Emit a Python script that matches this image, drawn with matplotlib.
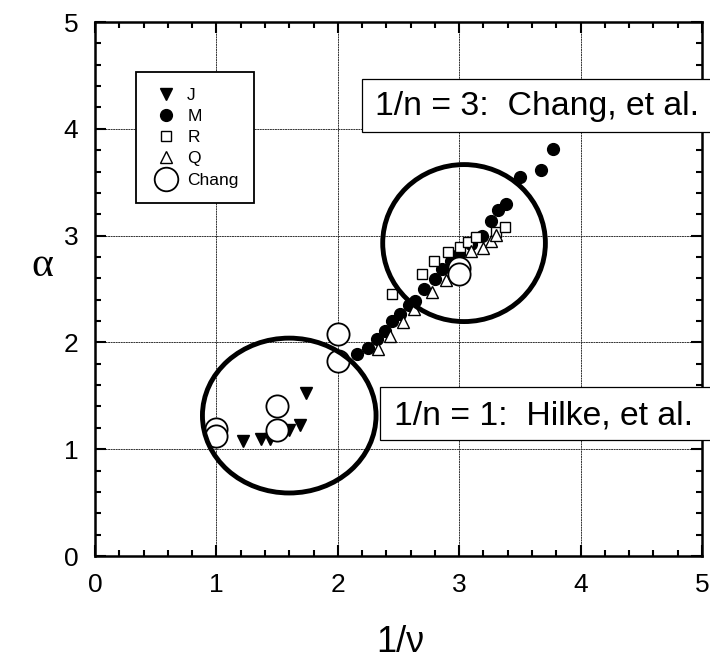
import matplotlib
matplotlib.use("Agg")
import matplotlib.pyplot as plt
from matplotlib.ticker import MultipleLocator
from matplotlib.patches import Ellipse, Rectangle
from matplotlib.lines import Line2D

plt.rcParams['font.family'] = ['Liberation Sans', 'DejaVu Sans']

# ---- data ----
J_x = [1.22, 1.365, 1.44, 1.60, 1.69, 1.74]
J_y = [1.08, 1.10, 1.10, 1.18, 1.23, 1.53]

M_x = [2.16, 2.25, 2.32, 2.385, 2.45, 2.51, 2.59, 2.64, 2.71, 2.80, 2.86,
       2.93, 3.00, 3.10, 3.19, 3.265, 3.32, 3.385, 3.50, 3.67, 3.775]
M_y = [1.89, 1.95, 2.03, 2.11, 2.20, 2.27, 2.35, 2.39, 2.50, 2.59, 2.69,
       2.76, 2.83, 2.92, 3.00, 3.14, 3.24, 3.30, 3.55, 3.61, 3.81]

R_x = [2.45, 2.695, 2.79, 2.905, 3.01, 3.07, 3.14, 3.30, 3.38]
R_y = [2.45, 2.64, 2.76, 2.85, 2.89, 2.94, 2.99, 3.03, 3.08]

Q_x = [2.33, 2.43, 2.54, 2.63, 2.78, 2.89, 3.10, 3.20, 3.26, 3.30]
Q_y = [1.94, 2.06, 2.19, 2.31, 2.47, 2.58, 2.86, 2.88, 2.95, 3.01]

Chang_x = [1.0, 1.0, 1.5, 1.5, 2.0, 2.0, 3.0, 3.0]
Chang_y = [1.19, 1.12, 1.40, 1.18, 2.08, 1.83, 2.70, 2.64]

ticks = [0, 1, 2, 3, 4, 5]
tick_labels = ["0", "1", "2", "3", "4", "5"]

# highlighted regions: (center x, center y, width, height)
regions = [(1.60, 1.315, 1.43, 1.45), (3.04, 2.93, 1.34, 1.47)]
# annotation text: (text x, baseline y, label), box: (left, bottom, top)
annotations = [(2.303, 4.13, "1/n = 3:  Chang, et al."),
               (2.467, 1.227, "1/n = 1:  Hilke, et al.")]
ann_boxes = [(2.196, 3.97, 4.466), (2.344, 1.086, 1.582)]

# ---- figure ----
fig = plt.figure(figsize=(7.1, 6.64), dpi=100)
ax = fig.add_axes([95/710, (664-556)/664, (702-95)/710, (556-22)/664])
ax.set_xlim(0, 5)
ax.set_ylim(0, 5)

ax.set_xticks(ticks)
ax.set_xticklabels(tick_labels)
ax.set_yticks(ticks)
ax.set_yticklabels(tick_labels)
ax.xaxis.set_minor_locator(MultipleLocator(0.2))
ax.yaxis.set_minor_locator(MultipleLocator(0.2))
ax.tick_params(which='both', direction='in', top=True, right=True, width=1.5)
ax.tick_params(which='major', length=8, labelsize=19, pad=12)
ax.tick_params(which='minor', length=4.5)
for s in ax.spines.values():
    s.set_linewidth(1.8)
ax.grid(True, which='major', color='#333333', linewidth=0.7, linestyle=(0, (2, 0.6)))
ax.set_axisbelow(True)

ax.plot(J_x, J_y, linestyle='none', marker='v', ms=8, color='black', zorder=3)
ax.plot(M_x, M_y, linestyle='none', marker='o', ms=8.5, color='black', zorder=3)
ax.plot(R_x, R_y, linestyle='none', marker='s', ms=7.5, mfc='white', mec='black', mew=1.0, zorder=3)
ax.plot(Q_x, Q_y, linestyle='none', marker='^', ms=8.5, mfc='white', mec='black', mew=1.0, zorder=3)
ax.plot(Chang_x, Chang_y, linestyle='none', marker='o', ms=16, mfc='white', mec='black', mew=1.3, zorder=4)

for cx, cy, w, h in regions:
    ax.add_patch(Ellipse((cx, cy), w, h, fill=False, edgecolor='black', linewidth=3.5, zorder=5))

for (tx, ty, s), (bl, bb, bt) in zip(annotations, ann_boxes):
    ax.add_patch(Rectangle((bl, bb), 6.0 - bl, bt - bb, facecolor='white', edgecolor='black',
                           linewidth=0.9, zorder=9, clip_on=False))
    ax.text(tx, ty, s, fontsize=24.3, va='baseline', ha='left', zorder=10, clip_on=False)

handles = [
    Line2D([], [], linestyle='none', marker='v', ms=8.5, color='black'),
    Line2D([], [], linestyle='none', marker='o', ms=8.5, color='black'),
    Line2D([], [], linestyle='none', marker='s', ms=7, mfc='white', mec='black', mew=1.0),
    Line2D([], [], linestyle='none', marker='^', ms=8.5, mfc='white', mec='black', mew=1.0),
    Line2D([], [], linestyle='none', marker='o', ms=17, mfc='white', mec='black', mew=1.3),
]
leg = ax.legend(handles, ["J", "M", "R", "Q", "Chang"], loc='upper left',
                bbox_to_anchor=((136-95)/607, (556-72)/534), borderaxespad=0,
                fontsize=12.5, frameon=True, fancybox=False, edgecolor='black',
                framealpha=1, labelspacing=0.35, handletextpad=0.45, handlelength=1.6,
                borderpad=0.9)
leg.get_frame().set_linewidth(1.3)
leg.set_zorder(8)

fig.text(42/710, 1 - 266/664, "α", fontsize=30, family='Liberation Serif', ha='center', va='center')
fig.text(400/710, 1 - 642/664, "1/ν", fontsize=26, ha='center', va='center')

fig.savefig("out.png", dpi=100)
